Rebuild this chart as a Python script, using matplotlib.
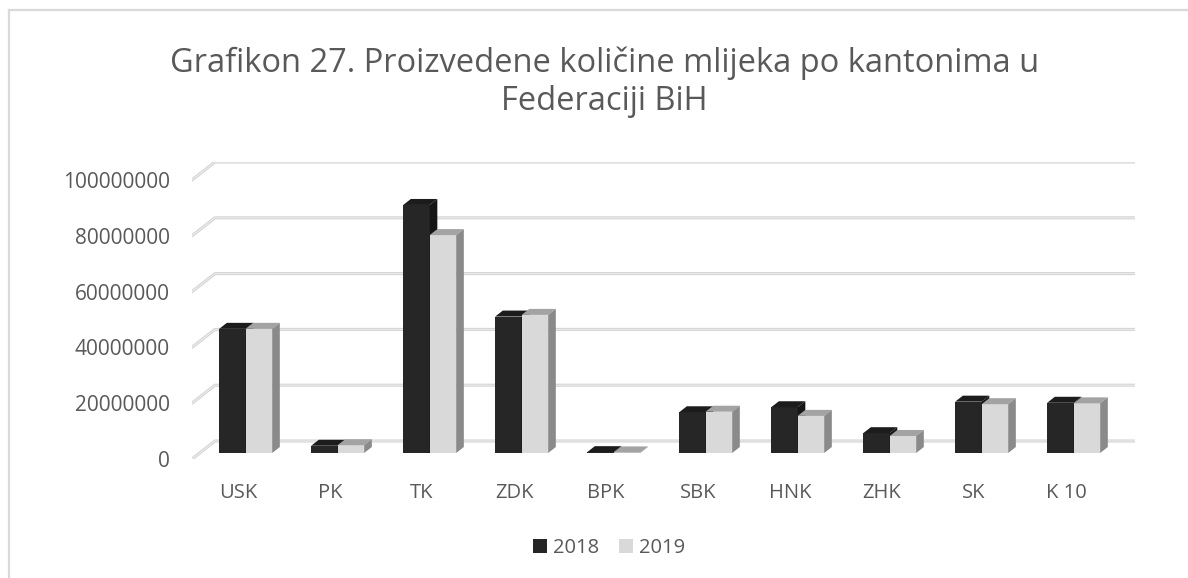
import matplotlib
matplotlib.use('Agg')
import matplotlib.pyplot as plt
from matplotlib.patches import Polygon, Patch
from matplotlib.lines import Line2D

plt.rcParams['font.family'] = ['Open Sans', 'DejaVu Sans']

# data
kantoni = ['USK', 'PK', 'TK', 'ZDK', 'BPK', 'SBK', 'HNK', 'ZHK', 'SK', 'K 10']
god_2018 = [44.5e6, 2.6e6, 88.9e6, 48.9e6, 0.3e6, 14.6e6, 16.4e6, 7.1e6, 18.4e6, 18.0e6]
god_2019 = [44.5e6, 2.8e6, 78.1e6, 49.5e6, 0.2e6, 14.8e6, 13.3e6, 6.1e6, 17.5e6, 17.8e6]
y_ticks = [0, 20000000, 40000000, 60000000, 80000000, 100000000]
serije = ['2018', '2019']

# colours (front, top, side) per series
boje = {
    '2018': ('#262626', '#1c1c1c', '#161616'),
    '2019': ('#d9d9d9', '#a3a3a3', '#8a8a8a'),
}
txt_col = '#595959'
grid_col = '#d3d3d3'

# fake 3D depth (in data units)
dub_x = 0.25      # full floor depth along x
dub_y = 6.45e6    # full floor depth along y
bar_w = 0.288
b_dx = dub_x / 3
b_dy = dub_y / 3

W, H = 1188, 578
fig = plt.figure(figsize=(W / 100, H / 100), dpi=100)
ax = fig.add_axes([192 / W, (H - 459) / H, 943 / W, 297 / H])
ax.set_xlim(-0.5, 9.75)
ax.set_ylim(0, 106.45e6)
for s in ax.spines.values():
    s.set_visible(False)

# gridlines: front diagonal + back wall line
for v in y_ticks:
    ax.plot([-0.5, -0.5 + dub_x, 9.75], [v, v + dub_y, v + dub_y],
            color=grid_col, lw=2.2, solid_capstyle='round', zorder=1)
    ax.plot([-0.5, -0.5 + dub_x, 9.75], [v, v + dub_y, v + dub_y],
            color='#efefef', lw=0.7, zorder=1.1)


def bar3d(x0, val, cols, z):
    front, top, side = cols
    ax.bar(x0, val, width=bar_w, bottom=b_dy, align='edge', color=front,
           edgecolor='none', zorder=z)
    y1 = b_dy + val
    ax.add_patch(Polygon([(x0, y1), (x0 + bar_w, y1), (x0 + bar_w + b_dx, y1 + b_dy),
                          (x0 + b_dx, y1 + b_dy)], closed=True, color=top, lw=0, zorder=z))
    ax.add_patch(Polygon([(x0 + bar_w, b_dy), (x0 + bar_w + b_dx, 2 * b_dy),
                          (x0 + bar_w + b_dx, y1 + b_dy), (x0 + bar_w, y1)],
                         closed=True, color=side, lw=0, zorder=z))


z = 3
for i in range(len(kantoni)):
    bar3d(i + b_dx - bar_w, god_2018[i], boje['2018'], z)
    z += 1
    bar3d(i + b_dx, god_2019[i], boje['2019'], z)
    z += 1

ax.set_yticks(y_ticks)
ax.set_yticklabels([str(v) for v in y_ticks])
ax.set_xticks(range(len(kantoni)))
ax.set_xticklabels(kantoni)
ax.tick_params(axis='y', length=0, pad=16, labelsize=15, labelcolor=txt_col)
ax.tick_params(axis='x', length=0, pad=17, labelsize=14.5, labelcolor=txt_col)

# title (two lines)
fig.text(605 / W, 1 - 63 / H, 'Grafikon 27. Proizvedene količine mlijeka po kantonima u',
         ha='center', va='center', fontsize=23.5, color=txt_col)
fig.text(604 / W, 1 - 101 / H, 'Federaciji BiH',
         ha='center', va='center', fontsize=23.5, color=txt_col)

# legend
handles = [Patch(facecolor=boje[s][0], edgecolor='none', label=s) for s in serije]
fig.legend(handles=handles, loc='center', bbox_to_anchor=(609 / W, 1 - 548 / H),
           ncol=2, frameon=False, fontsize=14.5, labelcolor=txt_col,
           handlelength=0.7, handleheight=0.7, handletextpad=0.3, columnspacing=1.0)

# chart area border (only top and left visible)
fig.add_artist(Line2D([9 / W, 9 / W], [0, 1 - 10 / H], transform=fig.transFigure,
                      color='#d9d9d9', lw=1.6))
fig.add_artist(Line2D([9 / W, 1], [1 - 10 / H, 1 - 10 / H], transform=fig.transFigure,
                      color='#d9d9d9', lw=1.6))

fig.savefig('out.png', dpi=100, facecolor='white')
